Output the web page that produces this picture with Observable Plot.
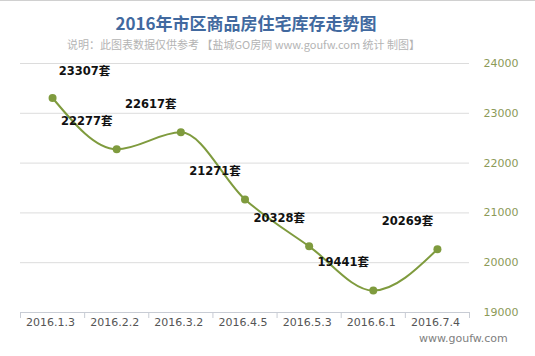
<!DOCTYPE html>
<html>
<head>
<meta charset="utf-8">
<script src="https://cdn.jsdelivr.net/npm/d3@7"></script>
<script src="https://cdn.jsdelivr.net/npm/@observablehq/plot@0.6"></script>
<style>
  html, body { margin: 0; padding: 0; background: #fff; }
  #wrap { position: relative; width: 535px; height: 356px; overflow: hidden; border-top: 1px solid #d0d0d0; box-sizing: border-box; }
  #title { position: absolute; left: 0; width: 492px; top: 11px; text-align: center; font: bold 17px "Noto Sans CJK SC", sans-serif; color: #41699f; line-height: 22px; }
  #subtitle { position: absolute; left: 0; width: 487px; top: 35px; text-align: center; font: 11px "Noto Sans CJK SC", sans-serif; color: #b4b4b4; line-height: 16px; }
  #chart { position: absolute; left: 0; top: 51px; }
  #wm { position: absolute; left: 419px; top: 331px; font: 11px "DejaVu Sans", sans-serif; color: #808080; }
</style>
</head>
<body>
<div id="wrap">
  <div id="title">2016年市区商品房住宅库存走势图</div>
  <div id="subtitle">说明：此图表数据仅供参考 【盐城GO房网 www.goufw.com 统计 制图】</div>
  <div id="chart"></div>
  <div id="wm">www.goufw.com</div>
</div>
<script>
const dates = ["2016.1.3", "2016.2.2", "2016.3.2", "2016.4.5", "2016.5.3", "2016.6.1", "2016.7.4"];
const stock = [23307, 22277, 22617, 21271, 20328, 19441, 20269];
const yTicks = [19000, 20000, 21000, 22000, 23000, 24000];
const unit = "套";

const data = dates.map((d, i) => ({i, date: d, value: stock[i], label: stock[i] + unit}));
const boundaries = d3.range(dates.length + 1).map(k => k - 0.5);

const green = "#7f9b3e";
const font = "'DejaVu Sans', 'Noto Sans CJK SC', sans-serif";

const chart = Plot.plot({
  width: 535,
  height: 305,
  marginLeft: 20,
  marginRight: 66,
  marginTop: 11,
  marginBottom: 45,
  style: {fontFamily: font, background: "transparent", overflow: "visible"},
  x: {domain: [-0.5, dates.length - 0.5], label: null},
  y: {domain: [19000, 24000], label: null},
  marks: [
    Plot.ruleY(yTicks.filter(t => t > 19000), {stroke: "#dcdcdc", strokeWidth: 1}),
    Plot.ruleY([19000], {stroke: "#c8ccd4", strokeWidth: 1}),
    Plot.axisX(boundaries, {tickSize: 6, tickFormat: () => "", stroke: "#c8ccd4", label: null}),
    Plot.axisX(d3.range(dates.length), {tickSize: 0, tickPadding: 6, tickFormat: i => dates[i], fontSize: 11, fill: "#555", dx: -2, label: null}),
    Plot.axisY(yTicks, {anchor: "right", tickSize: 0, tickPadding: 14, tickFormat: d => String(d), fontSize: 11, fill: "#8c9a58", label: null}),
    Plot.line(data, {x: "i", y: "value", curve: "monotone-x", stroke: green, strokeWidth: 2}),
    Plot.dot(data, {x: "i", y: "value", r: 4, fill: green, stroke: "none"}),
    Plot.text(data.filter(d => d.i === 0), {x: "i", y: "value", text: "label", dx: 32, dy: -27, fontSize: 11.5, fontWeight: "bold", fill: "#111"}),
    Plot.text(data.filter(d => d.i > 0), {x: "i", y: "value", text: "label", dx: -30, dy: -28, fontSize: 11.5, fontWeight: "bold", fill: "#111"})
  ]
});
document.getElementById("chart").appendChild(chart);
</script>
</body>
</html>
